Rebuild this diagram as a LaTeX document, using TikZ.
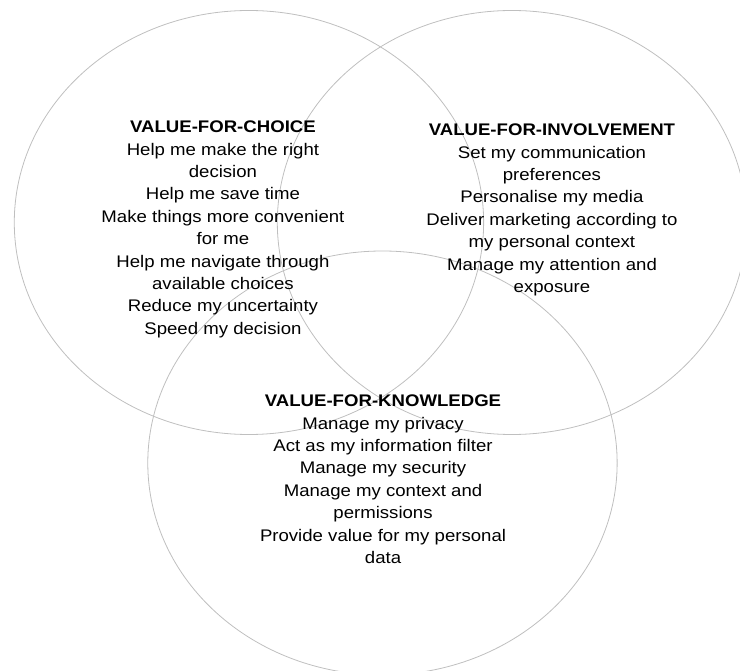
\documentclass[tikz,border=0pt]{standalone}
\usepackage{fontspec}
\setmainfont{Liberation Sans}
\begin{document}
\begin{tikzpicture}[x=1pt,y=1pt,
  ring/.style={draw=black!25, line width=0.8pt},
  blocktext/.style={align=center, anchor=north, inner sep=0pt, transform shape,
    font=\fontsize{16.8}{22.4}\selectfont, text=black}]
\useasboundingbox (0,0) rectangle (740,-671);
\clip (0,0) rectangle (740,-671);
\begin{scope}[xscale=1.107]
  \draw[ring] (224.9,-222.5) circle[radius=212];
  \draw[ring] (462.5,-222.5) circle[radius=212];
  \draw[ring] (345.5,-463) circle[radius=212];
  \node[blocktext] (choice) at (201.4,-120.8) {\textbf{VALUE-FOR-CHOICE}\\
    Help me make the right\\ decision\\ Help me save time\\
    Make things more convenient\\ for me\\ Help me navigate through\\
    available choices\\ Reduce my uncertainty\\ Speed my decision};
  \node[blocktext] (involve) at (498.6,-123.8) {\textbf{VALUE-FOR-INVOLVEMENT}\\
    Set my communication\\ preferences\\ Personalise my media\\
    Deliver marketing according to\\ my personal context\\
    Manage my attention and\\ exposure};
  \node[blocktext] (know) at (346,-394.8) {\textbf{VALUE-FOR-KNOWLEDGE}\\
    Manage my privacy\\ Act as my information filter\\ Manage my security\\
    Manage my context and\\ permissions\\ Provide value for my personal\\ data};
\end{scope}
\end{tikzpicture}
\end{document}
